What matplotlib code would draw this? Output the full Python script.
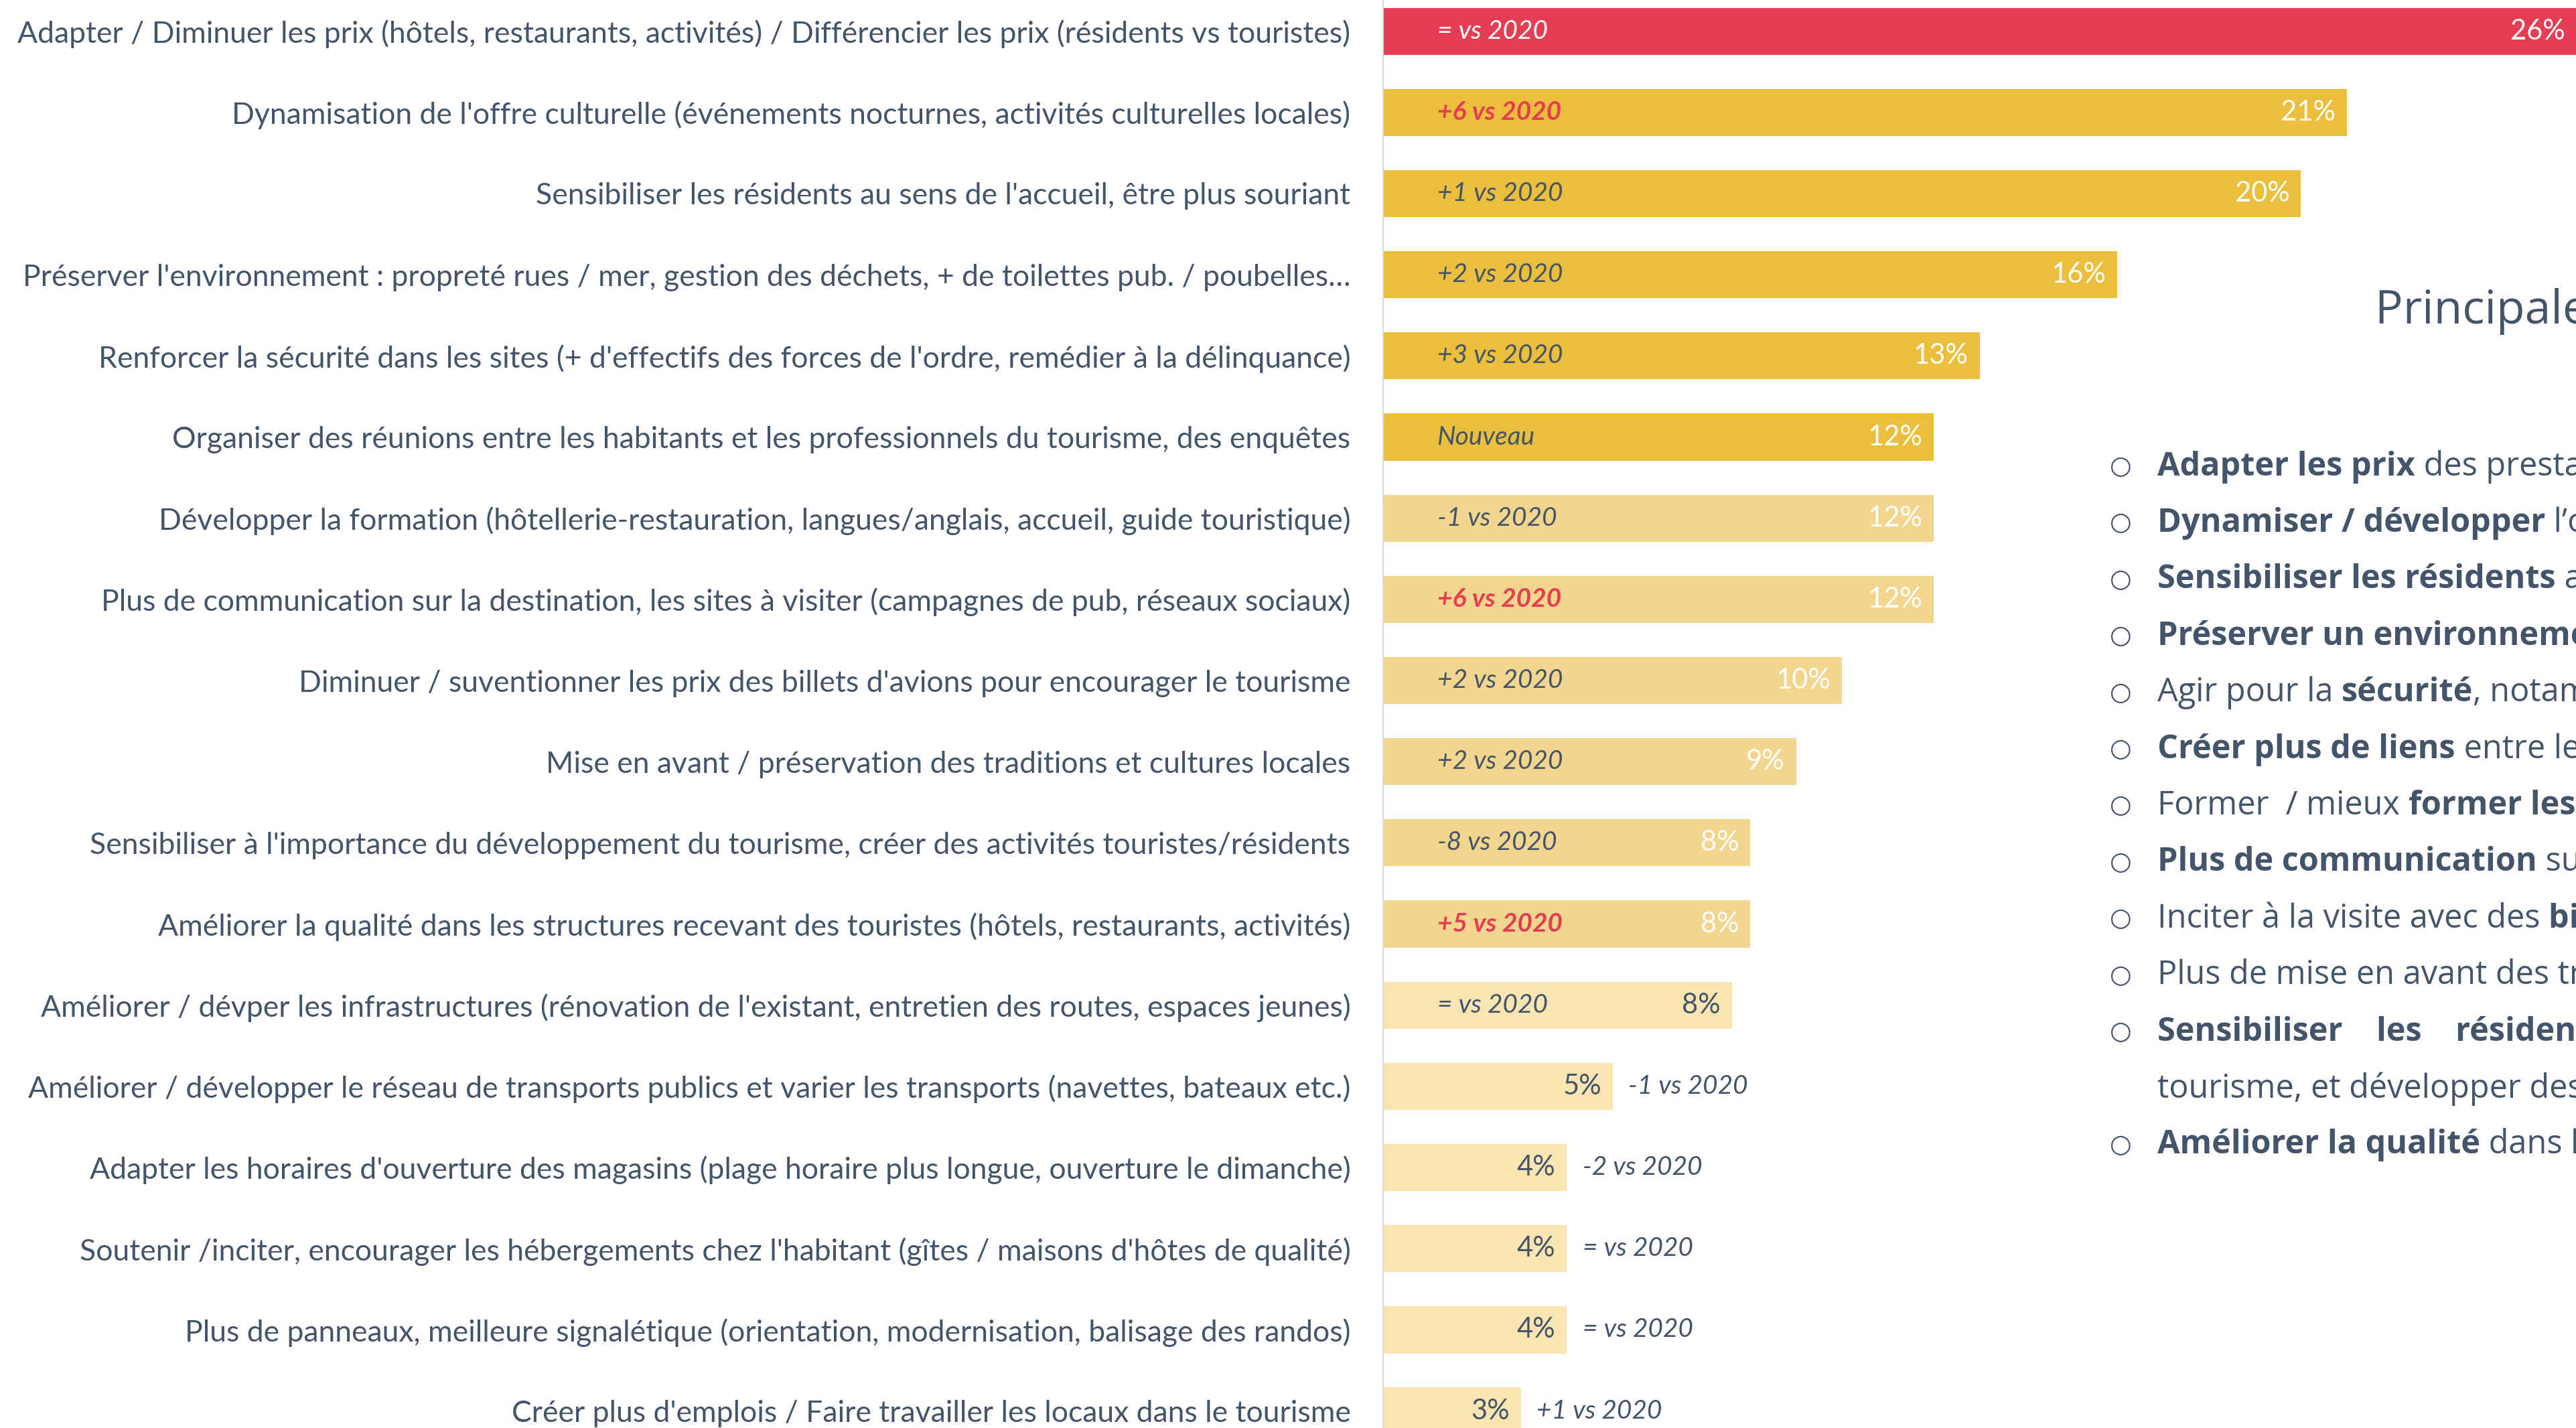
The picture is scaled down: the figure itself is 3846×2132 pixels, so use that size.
import matplotlib.pyplot as plt

# --- data ---
labels = [
    "Adapter / Diminuer les prix (hôtels, restaurants, activités) / Différencier les prix (résidents vs touristes)",
    "Dynamisation de l'offre culturelle (événements nocturnes, activités culturelles locales)",
    "Sensibiliser les résidents au sens de l'accueil, être plus souriant",
    "Préserver l'environnement : propreté rues / mer, gestion des déchets, + de toilettes pub. / poubelles…",
    "Renforcer la sécurité dans les sites (+ d'effectifs des forces de l'ordre, remédier à la délinquance)",
    "Organiser des réunions entre les habitants et les professionnels du tourisme, des enquêtes",
    "Développer la formation (hôtellerie-restauration, langues/anglais, accueil, guide touristique)",
    "Plus de communication sur la destination, les sites à visiter (campagnes de pub, réseaux sociaux)",
    "Diminuer / suventionner les prix des billets d'avions pour encourager le tourisme",
    "Mise en avant / préservation des traditions et cultures locales",
    "Sensibiliser à l'importance du développement du tourisme, créer des activités touristes/résidents",
    "Améliorer la qualité dans les structures recevant des touristes (hôtels, restaurants, activités)",
    "Améliorer / dévper les infrastructures (rénovation de l'existant, entretien des routes, espaces jeunes)",
    "Améliorer / développer le réseau de transports publics et varier les transports (navettes, bateaux etc.)",
    "Adapter les horaires d'ouverture des magasins (plage horaire plus longue, ouverture le dimanche)",
    "Soutenir /inciter, encourager les hébergements chez l'habitant (gîtes / maisons d'hôtes de qualité)",
    "Plus de panneaux, meilleure signalétique (orientation, modernisation, balisage des randos)",
    "Créer plus d'emplois / Faire travailler les locaux dans le tourisme",
]
values = [26, 21, 20, 16, 13, 12, 12, 12, 10, 9, 8, 8, 7.6, 5, 4, 4, 4, 3]
changes = ["= vs 2020", "+6 vs 2020", "+1 vs 2020", "+2 vs 2020", "+3 vs 2020", "Nouveau",
           "-1 vs 2020", "+6 vs 2020", "+2 vs 2020", "+2 vs 2020", "-8 vs 2020", "+5 vs 2020",
           "= vs 2020", "-1 vs 2020", "-2 vs 2020", "= vs 2020", "= vs 2020", "+1 vs 2020"]
tiers = [0, 1, 1, 1, 1, 1, 2, 2, 2, 2, 2, 2, 3, 3, 3, 3, 3, 3]
highlight = [1, 7, 11]  # red evolutions

title = "Principales attentes des résidents"
bullets = [
    [("Adapter les prix", "bold"), (" des prestations touristiques", "normal")],
    [("Dynamiser / développer", "bold"), (" l’offre culturelle", "normal")],
    [("Sensibiliser les résidents", "bold"), (" au sens de l’accueil", "normal")],
    [("Préserver un environnement propre", "bold")],
    [("Agir pour la ", "normal"), ("sécurité", "bold"), (", notamment dans les sites", "normal")],
    [("Créer plus de liens", "bold"), (" entre les habitants et les professionnels", "normal")],
    [("Former  / mieux ", "normal"), ("former les professionnels", "bold")],
    [("Plus de communication", "bold"), (" sur la destination", "normal")],
    [("Inciter à la visite avec des ", "normal"), ("billets d’avion moins chers", "bold")],
    [("Plus de mise en avant des traditions locales", "normal")],
    [("Sensibiliser    les    résidents", "bold"), ("    à l’importance du", "normal")],
    [("tourisme, et développer des activités", "normal")],
    [("Améliorer la qualité", "bold"), (" dans les structures", "normal")],
]
no_bullet = [11]

tier_colors = ["#E43D54", "#EBBE3C", "#F3D68D", "#F8E5B1"]
dark = "#44546A"
red = "#E43D54"
font = "Lato"

fig = plt.figure(figsize=(38.46, 21.32), dpi=100)
ax = fig.add_axes([2065 / 3846, 0, 1 - 2065 / 3846, 1])

n = len(values)
ypos = list(range(n))
ax.barh(ypos, values, height=0.58, color=[tier_colors[t] for t in tiers], zorder=2)
ax.set_xlim(0, 26)
ax.set_ylim(17.21, -0.385)

for s in ["top", "right", "bottom"]:
    ax.spines[s].set_visible(False)
ax.spines["left"].set_color("#D9D9D9")
ax.spines["left"].set_linewidth(1.5)
ax.set_xticks([])
ax.set_yticks(ypos)
ax.set_yticklabels(labels, fontsize=32, color=dark, family=font)
ax.tick_params(axis="y", length=0, pad=35)

for i, v in enumerate(values):
    # percentage
    pc = dark if tiers[i] == 3 else "white"
    ax.annotate(f"{round(v)}%", (v, i), xytext=(-12, 0), textcoords="offset points",
                ha="right", va="center", fontsize=30, color=pc, family=font)
    # evolution vs 2020
    if i == 0:
        c, w = "white", "normal"
    elif i in highlight:
        c, w = red, "bold"
    else:
        c, w = dark, "normal"
    if i >= 13:
        ax.annotate(changes[i], (v, i), xytext=(17, 0), textcoords="offset points",
                    ha="left", va="center", fontsize=28, color=c, style="italic",
                    weight=w, family=font)
    else:
        ax.annotate(changes[i], (0, i), xytext=(58, 0), textcoords="offset points",
                    ha="left", va="center", fontsize=28, color=c, style="italic",
                    weight=w, family=font)

# right panel
over = fig.add_axes([0, 0, 1, 1])
over.set_axis_off()
over.set_xlim(0, 1)
over.set_ylim(0, 1)

over.text(3546 / 3846, 1 - 465 / 2132, title, fontsize=50, color=dark,
          family="Open Sans", weight="normal", ha="left", va="center")

y0 = 697
step = 84.4
for k, segs in enumerate(bullets):
    yy = 1 - (y0 + step * k) / 2132
    if k not in no_bullet:
        over.text(3150 / 3846, yy, "○", fontsize=27, color=dark, family="DejaVu Sans",
                  ha="left", va="center")
    prev = over.text(3221 / 3846, yy, segs[0][0], fontsize=35, color=dark,
                     family="Open Sans", weight=segs[0][1], ha="left", va="center")
    for txt, w in segs[1:]:
        prev = over.annotate(txt, xy=(1, 0), xycoords=prev, ha="left", va="bottom",
                             fontsize=35, color=dark, family="Open Sans", weight=w)

fig.savefig("out.png", dpi=100)
